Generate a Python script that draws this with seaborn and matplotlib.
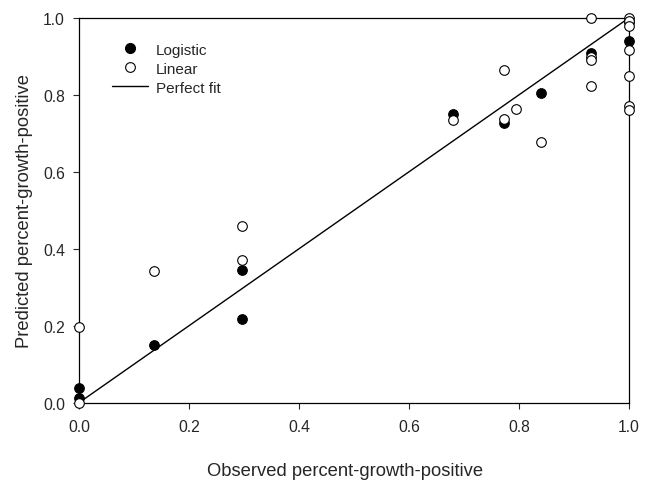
import matplotlib
matplotlib.use("Agg")
import matplotlib.pyplot as plt
import seaborn as sns
import pandas as pd
from matplotlib.lines import Line2D

# Logistic model predictions (filled)
logistic_obs = [0.0, 0.0, 0.136, 0.296, 0.296, 0.681, 0.773, 0.841, 0.932, 1.0, 1.0]
logistic_pred = [0.037, 0.012, 0.150, 0.346, 0.218, 0.750, 0.727, 0.805, 0.909, 0.941, 0.99]

# Linear model predictions (open)
linear_obs = [0.0, 0.0, 0.136, 0.296, 0.296, 0.681, 0.773, 0.773, 0.795, 0.841,
              0.932, 0.932, 0.932, 0.932, 1.0, 1.0, 1.0, 1.0, 1.0, 1.0, 1.0]
linear_pred = [0.198, 0.0, 0.343, 0.460, 0.371, 0.736, 0.865, 0.737, 0.763, 0.678,
               1.0, 0.898, 0.891, 0.823, 1.0, 0.993, 0.980, 0.918, 0.848, 0.772, 0.762]

# Perfect-fit line
fit_x = [0.0, 1.0]
fit_y = [0.0, 1.0]

ticks = [0.0, 0.2, 0.4, 0.6, 0.8, 1.0]
tick_labels = ["0.0", "0.2", "0.4", "0.6", "0.8", "1.0"]

sns.set_style("ticks")
plt.rcParams["font.family"] = ["Liberation Sans", "DejaVu Sans"]

fig = plt.figure(figsize=(6.55, 4.81), dpi=100)
ax = fig.add_axes([0.1206, 0.1607, 0.8394, 0.7998])

df_log = pd.DataFrame({"obs": logistic_obs, "pred": logistic_pred})
df_lin = pd.DataFrame({"obs": linear_obs, "pred": linear_pred})
df_fit = pd.DataFrame({"x": fit_x, "y": fit_y})

sns.lineplot(data=df_fit, x="x", y="y", ax=ax, color="black", linewidth=1.0, zorder=2)
sns.scatterplot(data=df_log, x="obs", y="pred", ax=ax, color="black", edgecolor="black",
                s=48, linewidth=0.8, zorder=3, clip_on=False)
sns.scatterplot(data=df_lin, x="obs", y="pred", ax=ax, color="white", edgecolor="black",
                s=48, linewidth=0.8, zorder=4, clip_on=False)

ax.set_xlim(0, 1)
ax.set_ylim(0, 1)
ax.set_xticks(ticks)
ax.set_xticklabels(tick_labels)
ax.set_yticks(ticks)
ax.set_yticklabels(tick_labels)
ax.tick_params(axis="both", direction="out", length=4, width=0.8, labelsize=11.3)
ax.tick_params(axis="x", pad=8)
ax.tick_params(axis="y", pad=6)
for sp in ax.spines.values():
    sp.set_linewidth(0.9)
    sp.set_color("black")

ax.set_xlabel("Observed percent-growth-positive", fontsize=13.2)
ax.set_ylabel("Predicted percent-growth-positive", fontsize=13.2, labelpad=7)
ax.xaxis.set_label_coords(0.484, -0.153)

handles = [
    Line2D([], [], marker="o", linestyle="none", markerfacecolor="black",
           markeredgecolor="black", markersize=7),
    Line2D([], [], marker="o", linestyle="none", markerfacecolor="white",
           markeredgecolor="black", markersize=7, markeredgewidth=0.8),
    Line2D([], [], color="black", linewidth=1.0),
]
ax.legend(handles, ["Logistic", "Linear", "Perfect fit"], loc="upper left",
          bbox_to_anchor=(0.035, 0.972), frameon=False, fontsize=11,
          handlelength=2.35, handletextpad=0.52, labelspacing=0.33)

fig.savefig("out.png", dpi=100)
